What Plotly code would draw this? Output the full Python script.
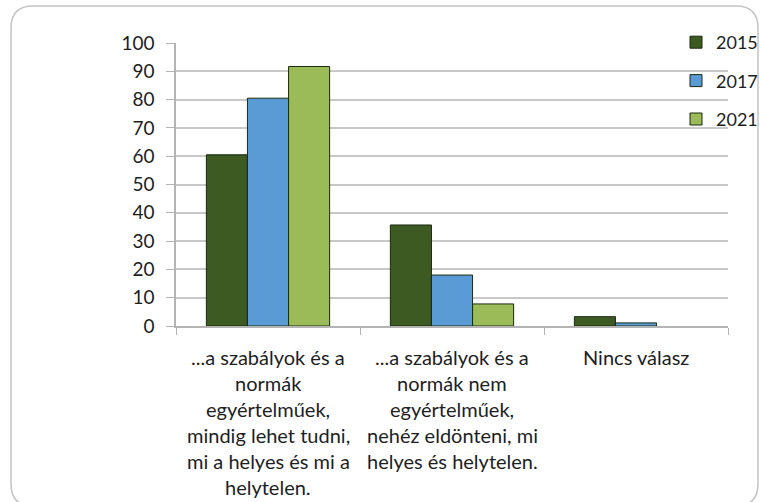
import plotly.graph_objects as go

# Survey answers (percent) by year
categories = [
    "...a szabályok és a<br>normák<br>egyértelműek,<br>mindig lehet tudni,<br>mi a helyes és mi a<br>helytelen.",
    "...a szabályok és a<br>normák nem<br>egyértelműek,<br>nehéz eldönteni, mi<br>helyes és helytelen.",
    "Nincs válasz",
]
cat_keys = ["c1", "c2", "c3"]
years = ["2015", "2017", "2021"]
values_2015 = [60.5, 35.7, 3.3]
values_2017 = [80.5, 18.0, 1.1]
values_2021 = [91.7, 7.8, 0.0]
y_ticks = list(range(0, 101, 10))

colors = ["#3d5a23", "#5b9bd5", "#9bbb59"]
series = [values_2015, values_2017, values_2021]

W, H = 760, 502
L, R, T, B = 176, 32, 43, 176
FONT = "Lato, 'Open Sans', sans-serif"
TXT = "#1e1e1e"

fig = go.Figure()
for name, vals, col in zip(years, series, colors):
    fig.add_trace(go.Bar(
        x=cat_keys, y=vals, name=name, legendgroup=name,
        marker=dict(color=col,
                    line=dict(color="#1a2a10",
                              width=[1 if v > 0 else 0 for v in vals])),
    ))

# Multi-line category labels placed under each category with fixed line spacing
line_gap = 26
for key, label in zip(cat_keys, categories):
    for i, line in enumerate(label.split("<br>")):
        fig.add_annotation(
            x=key, xref="x", y=0, yref="paper",
            text=line, showarrow=False,
            xanchor="center", yanchor="middle",
            yshift=-(31 + line_gap * i),
            font=dict(family=FONT, size=20, color=TXT),
        )

# Rounded outer frame
pw, ph = W - L - R, H - T - B
def px(x):
    return (x - L) / pw
def py(y):
    return (H - B - y) / ph
x0, x1, y0, y1, r = 11, 758, 6, 506, 22
path = (
    f"M {px(x0 + r)} {py(y0)} L {px(x1 - r)} {py(y0)} "
    f"Q {px(x1)} {py(y0)} {px(x1)} {py(y0 + r)} "
    f"L {px(x1)} {py(y1 - r)} Q {px(x1)} {py(y1)} {px(x1 - r)} {py(y1)} "
    f"L {px(x0 + r)} {py(y1)} Q {px(x0)} {py(y1)} {px(x0)} {py(y1 - r)} "
    f"L {px(x0)} {py(y0 + r)} Q {px(x0)} {py(y0)} {px(x0 + r)} {py(y0)} Z"
)
fig.add_shape(type="path", path=path, xref="paper", yref="paper",
              line=dict(color="#c4c4c4", width=1.5), layer="below")

fig.update_layout(
    width=W, height=H,
    margin=dict(l=L, r=R, t=T, b=B, autoexpand=False),
    paper_bgcolor="white", plot_bgcolor="white",
    barmode="group", bargap=0.33, bargroupgap=0,
    font=dict(family=FONT, size=17, color=TXT),
    showlegend=True,
    legend=dict(
        x=px(676), xanchor="left",
        y=py(24), yanchor="top",
        font=dict(family=FONT, size=18, color=TXT),
        tracegroupgap=12, itemwidth=30,
        bgcolor="rgba(0,0,0,0)",
    ),
)
fig.update_xaxes(
    range=[-0.5, 2.5], showticklabels=False,
    showline=True, linecolor="#b4b4b4", linewidth=1.5,
    ticks="outside", tickson="boundaries", ticklen=7, tickcolor="#b4b4b4",
    showgrid=False,
)
fig.update_yaxes(
    range=[0, 100], tickvals=y_ticks,
    showline=True, linecolor="#b4b4b4", linewidth=1.5,
    ticks="outside", ticklen=8, tickcolor="#b4b4b4",
    ticklabelstandoff=8,
    showgrid=True, gridcolor="#c8c8c8", gridwidth=1.5,
    zeroline=False,
    tickfont=dict(family=FONT, size=19, color=TXT),
)

fig.write_html("out.html")
